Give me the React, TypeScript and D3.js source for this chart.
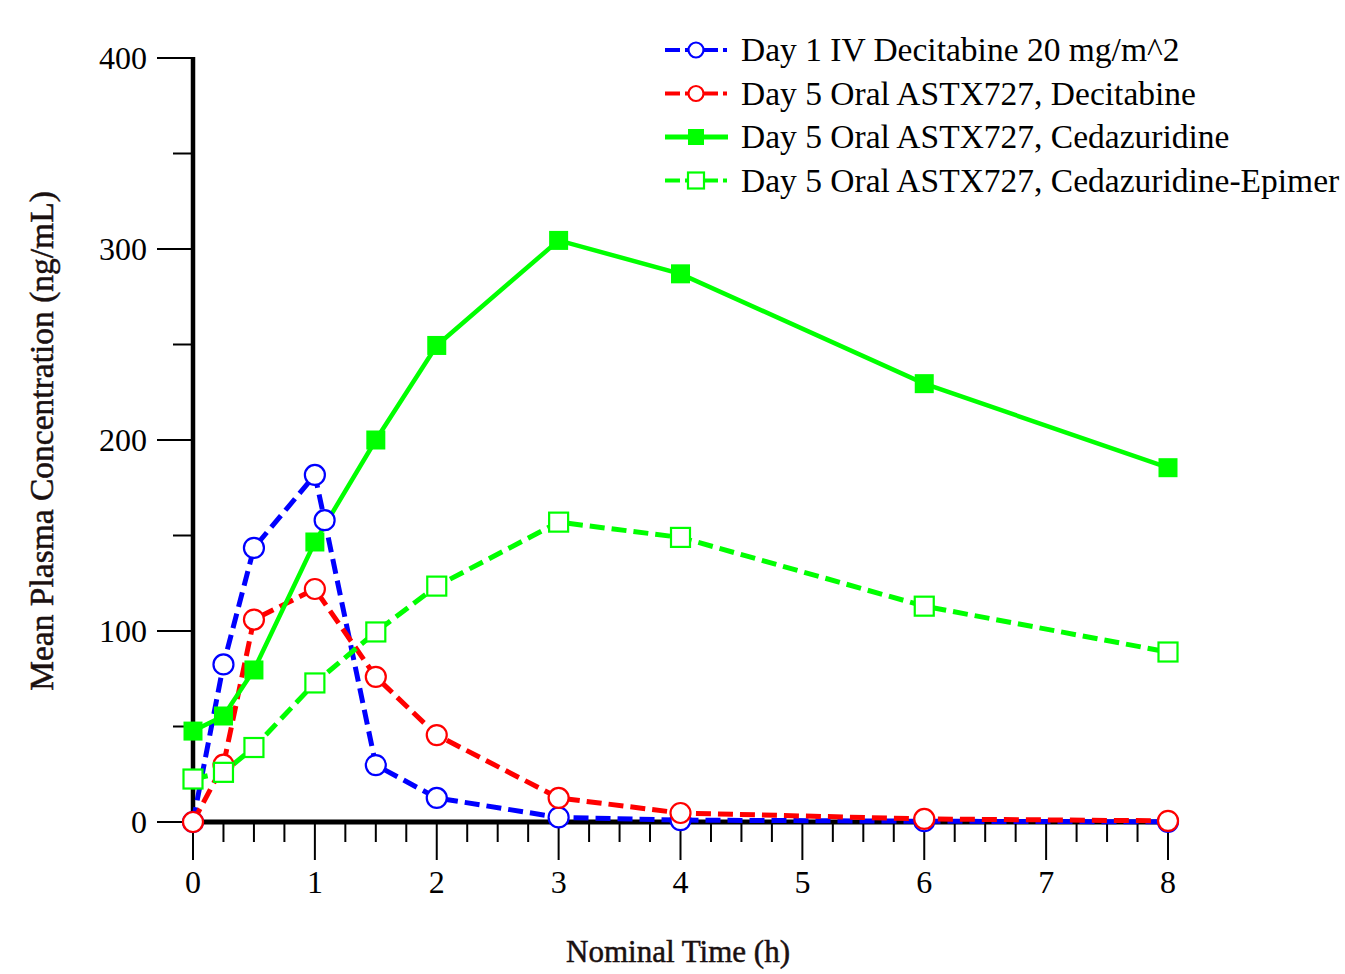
import React from "react";
import * as d3 from "d3";

const times = [0, 0.25, 0.5, 1, 1.5, 2, 3, 4, 6, 8];
const ivTimes = [0, 0.25, 0.5, 1, 1.08, 1.5, 2, 3, 4, 6, 8];
const ivDecitabine = [0, 82.5, 143.5, 181.7, 158, 29.8, 12.6, 2.4, 1, 0.4, 0.1];
const oralDecitabine = [0, 30, 106, 122, 76, 45.5, 12.6, 4.7, 1.6, 0.6];
const cedazuridine = [47.6, 55.5, 79.6, 146.6, 200, 249.5, 304.5, 287, 229.5, 185.5];
const cedazuridineEpimer = [22.5, 26, 39, 72.8, 99.5, 123.5, 157, 149, 113, 89];

const xTicks = [0, 1, 2, 3, 4, 5, 6, 7, 8];
const yTicks = [0, 100, 200, 300, 400];

const seriesNames = [
  "Day 1 IV Decitabine 20 mg/m^2",
  "Day 5 Oral ASTX727, Decitabine",
  "Day 5 Oral ASTX727, Cedazuridine",
  "Day 5 Oral ASTX727, Cedazuridine-Epimer",
];

type Series = {
  name: string;
  t: number[];
  v: number[];
  color: string;
  dashed: boolean;
  marker: "circle" | "square";
  filled: boolean;
};

const series: Series[] = [
  { name: seriesNames[0], t: ivTimes, v: ivDecitabine, color: "#0000ff", dashed: true, marker: "circle", filled: false },
  { name: seriesNames[1], t: times, v: oralDecitabine, color: "#ff0000", dashed: true, marker: "circle", filled: false },
  { name: seriesNames[2], t: times, v: cedazuridine, color: "#00ff00", dashed: false, marker: "square", filled: true },
  { name: seriesNames[3], t: times, v: cedazuridineEpimer, color: "#00ff00", dashed: true, marker: "square", filled: false },
];

const W = 1345;
const H = 974;
const FONT = "'Liberation Serif', 'Times New Roman', serif";

export default function App() {
  const x = d3.scaleLinear().domain([0, 8]).range([193, 1168]);
  const y = d3.scaleLinear().domain([0, 400]).range([822, 58]);
  const line = d3
    .line<[number, number]>()
    .x((d) => x(d[0]))
    .y((d) => y(d[1]));

  const xMinor = d3.range(0, 8.001, 0.25).filter((t) => Math.abs(t - Math.round(t)) > 1e-6);
  const yMinor = [50, 150, 250, 350];

  const drawMarker = (s: Series, cx: number, cy: number, size: number, key: string) => {
    if (s.marker === "circle") {
      return (
        <circle key={key} cx={cx} cy={cy} r={size / 2} fill={s.filled ? s.color : "#fff"} stroke={s.color} strokeWidth={2.2} />
      );
    }
    return (
      <rect
        key={key}
        x={cx - size / 2}
        y={cy - size / 2}
        width={size}
        height={size}
        fill={s.filled ? s.color : "#fff"}
        stroke={s.color}
        strokeWidth={s.filled ? 0 : 2.2}
      />
    );
  };

  return (
    <svg width={W} height={H} style={{ display: "block", position: "absolute", left: 0, top: 0 }} fontFamily={FONT}>
      <rect width={W} height={H} fill="#fff" />

      {/* y ticks */}
      {yTicks.map((v) => (
        <g key={"yt" + v}>
          <line x1={157} x2={193} y1={y(v)} y2={y(v)} stroke="#000" strokeWidth={2} />
          <text x={147} y={y(v)} dy="0.33em" textAnchor="end" fontSize={32}>
            {v}
          </text>
        </g>
      ))}
      {yMinor.map((v) => (
        <line key={"ym" + v} x1={173} x2={193} y1={y(v)} y2={y(v)} stroke="#000" strokeWidth={2} />
      ))}

      {/* x ticks */}
      {xTicks.map((t) => (
        <g key={"xt" + t}>
          <line x1={x(t)} x2={x(t)} y1={822} y2={860} stroke="#000" strokeWidth={2} />
          <text x={x(t)} y={893} textAnchor="middle" fontSize={32}>
            {t}
          </text>
        </g>
      ))}
      {xMinor.map((t) => (
        <line key={"xm" + t} x1={x(t)} x2={x(t)} y1={822} y2={842} stroke="#000" strokeWidth={2} />
      ))}

      {/* axes */}
      <line x1={193} x2={193} y1={57} y2={824} stroke="#000" strokeWidth={4.5} />
      <line x1={191} x2={1168} y1={822} y2={822} stroke="#000" strokeWidth={5} />

      {/* lines */}
      {series.map((s, i) => (
        <path
          key={"l" + i}
          d={line(s.t.map((t, j) => [t, s.v[j]] as [number, number])) || ""}
          fill="none"
          stroke={s.color}
          strokeWidth={s.dashed ? 5 : 4.5}
          strokeDasharray={s.dashed ? "15,7" : undefined}
        />
      ))}

      {/* markers */}
      {series.map((s, i) => (
        <g key={"m" + i}>{s.t.map((t, j) => drawMarker(s, x(t), y(s.v[j]), s.marker === "circle" ? 20 : 19, `${i}-${j}`))}</g>
      ))}

      {/* legend */}
      {series.map((s, i) => {
        const cy = 50 + i * 43.5;
        return (
          <g key={"lg" + i}>
            <line
              x1={665}
              x2={728}
              y1={cy}
              y2={cy}
              stroke={s.color}
              strokeWidth={s.dashed ? 4 : 5}
              strokeDasharray={s.dashed ? "15,5,33,5,4,100" : undefined}
            />
            {drawMarker(s, 696, cy, s.marker === "circle" ? 15 : 16, "lm" + i)}
            <text x={741} y={cy} dy="0.34em" fontSize={33.5}>
              {s.name}
            </text>
          </g>
        );
      })}

      {/* axis titles */}
      <text x={678} y={962} textAnchor="middle" fontSize={31} fill="#1a1010" stroke="#1a1010" strokeWidth={0.5}>
        Nominal Time (h)
      </text>
      <text
        transform={`translate(53, 441) rotate(-90)`}
        textAnchor="middle"
        fontSize={33.5}
        fill="#1a1010"
        stroke="#1a1010"
        strokeWidth={0.5}
      >
        Mean Plasma Concentration (ng/mL)
      </text>
    </svg>
  );
}
